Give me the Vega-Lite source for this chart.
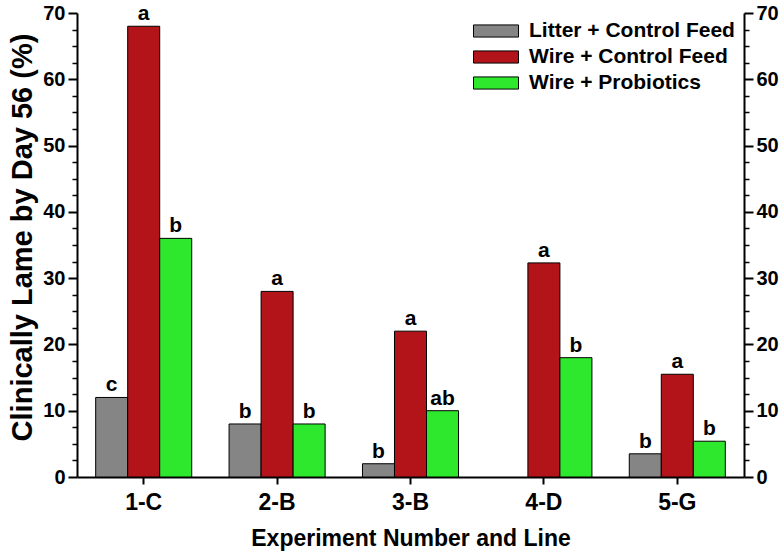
{
  "$schema": "https://vega.github.io/schema/vega-lite/v6.json",
  "width": 667,
  "height": 464,
  "autosize": {"type": "none"},
  "padding": {"left": 77, "top": 13, "right": 40, "bottom": 77},
  "background": "white",
  "config": {
    "view": {"stroke": null},
    "font": "Liberation Sans",
    "axis": {"domainColor": "black", "domainWidth": 2, "tickColor": "black", "labelColor": "black", "titleColor": "black", "labelFont": "Liberation Sans", "titleFont": "Liberation Sans", "labelFontWeight": "bold", "titleFontWeight": "bold", "grid": false}
  },
  "data": {
    "values": [
      {"exp": "1-C", "group": "Litter + Control Feed", "value": 12, "letter": "c"},
      {"exp": "1-C", "group": "Wire + Control Feed", "value": 68, "letter": "a"},
      {"exp": "1-C", "group": "Wire + Probiotics", "value": 36, "letter": "b"},
      {"exp": "2-B", "group": "Litter + Control Feed", "value": 8, "letter": "b"},
      {"exp": "2-B", "group": "Wire + Control Feed", "value": 28, "letter": "a"},
      {"exp": "2-B", "group": "Wire + Probiotics", "value": 8, "letter": "b"},
      {"exp": "3-B", "group": "Litter + Control Feed", "value": 2, "letter": "b"},
      {"exp": "3-B", "group": "Wire + Control Feed", "value": 22, "letter": "a"},
      {"exp": "3-B", "group": "Wire + Probiotics", "value": 10, "letter": "ab"},
      {"exp": "4-D", "group": "Wire + Control Feed", "value": 32.3, "letter": "a"},
      {"exp": "4-D", "group": "Wire + Probiotics", "value": 18, "letter": "b"},
      {"exp": "5-G", "group": "Litter + Control Feed", "value": 3.5, "letter": "b"},
      {"exp": "5-G", "group": "Wire + Control Feed", "value": 15.5, "letter": "a"},
      {"exp": "5-G", "group": "Wire + Probiotics", "value": 5.4, "letter": "b"}
    ]
  },
  "encoding": {
    "x": {
      "field": "exp", "type": "nominal",
      "sort": ["1-C", "2-B", "3-B", "4-D", "5-G"],
      "scale": {"paddingInner": 0.28, "paddingOuter": 0.14},
      "axis": {"title": "Experiment Number and Line", "labelAngle": 0, "labelFontSize": 23, "titleFontSize": 23, "tickSize": 7, "tickWidth": 2, "labelPadding": 7, "titlePadding": 13}
    },
    "xOffset": {
      "field": "group", "type": "nominal",
      "scale": {"domain": ["Litter + Control Feed", "Wire + Control Feed", "Wire + Probiotics"], "paddingInner": 0, "paddingOuter": 0}
    }
  },
  "layer": [
    {
      "mark": {"type": "bar", "stroke": "black", "strokeWidth": 1},
      "encoding": {
        "y": {
          "field": "value", "type": "quantitative",
          "scale": {"domain": [0, 70], "nice": false},
          "axis": {
            "orient": "left",
            "title": "Clinically Lame by Day 56 (%)",
            "titleFontSize": 29, "titlePadding": 5, "titleY": 224,
            "labelFontSize": 20, "labelPadding": 3,
            "values": [0, 10, 20, 30, 40, 50, 60, 70],
            "tickSize": 9, "tickWidth": 2
          }
        },
        "color": {
          "field": "group", "type": "nominal",
          "scale": {"domain": ["Litter + Control Feed", "Wire + Control Feed", "Wire + Probiotics"], "range": ["#858585", "#b3141a", "#2ee82e"]},
          "legend": {
            "title": null, "orient": "none", "legendX": 396, "legendY": 8,
            "symbolType": "M-1,-0.27H1V0.27H-1Z", "symbolSize": 2025,
            "symbolStrokeColor": "black", "symbolStrokeWidth": 1, "symbolOpacity": 1,
            "labelFontSize": 21, "labelFont": "Liberation Sans", "labelFontWeight": "bold", "labelColor": "black",
            "labelOffset": 10, "clipHeight": 20, "rowPadding": 5, "padding": 0, "symbolOffset": 0, "labelLimit": 400
          }
        }
      }
    },
    {
      "mark": {"type": "text", "baseline": "bottom", "dy": -2, "fontSize": 21, "fontWeight": "bold", "font": "Liberation Sans", "color": "black"},
      "encoding": {
        "text": {"field": "letter"},
        "y": {
          "field": "value", "type": "quantitative",
          "scale": {"domain": [0, 70], "nice": false},
          "axis": {
            "orient": "right",
            "title": null,
            "labelFontSize": 20, "labelPadding": 3,
            "values": [0, 10, 20, 30, 40, 50, 60, 70],
            "tickSize": 9, "tickWidth": 2
          }
        }
      }
    },
    {
      "mark": {"type": "point", "opacity": 0},
      "encoding": {
        "y": {
          "field": "value", "type": "quantitative",
          "scale": {"domain": [0, 70], "nice": false},
          "axis": {
            "orient": "left", "title": null, "labels": false, "domain": false,
            "values": [2.5, 5, 7.5, 12.5, 15, 17.5, 22.5, 25, 27.5, 32.5, 35, 37.5, 42.5, 45, 47.5, 52.5, 55, 57.5, 62.5, 65, 67.5],
            "tickSize": 5, "tickWidth": 1.5, "tickColor": "black"
          }
        }
      }
    },
    {
      "mark": {"type": "point", "opacity": 0},
      "encoding": {
        "y": {
          "field": "value", "type": "quantitative",
          "scale": {"domain": [0, 70], "nice": false},
          "axis": {
            "orient": "right", "title": null, "labels": false, "domain": false,
            "values": [2.5, 5, 7.5, 12.5, 15, 17.5, 22.5, 25, 27.5, 32.5, 35, 37.5, 42.5, 45, 47.5, 52.5, 55, 57.5, 62.5, 65, 67.5],
            "tickSize": 5, "tickWidth": 1.5, "tickColor": "black"
          }
        }
      }
    }
  ],
  "resolve": {"axis": {"y": "independent"}}
}
